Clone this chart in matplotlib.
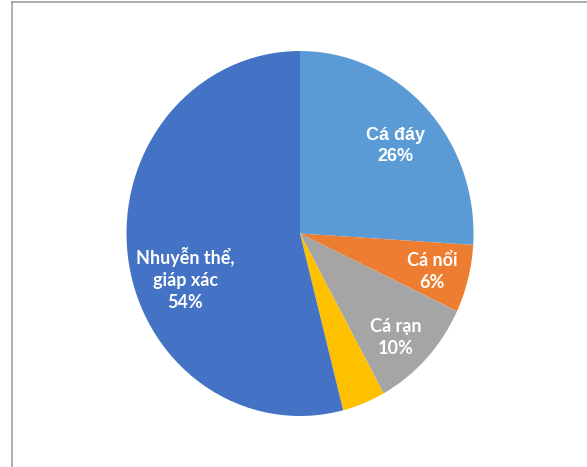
import matplotlib.pyplot as plt
from matplotlib.lines import Line2D

# ====== データ ======
categories = ["Cá đáy", "Cá nổi", "Cá rạn", "", "Nhuyễn thể,\ngiáp xác"]
shares = [26, 6, 10, 4, 54]
colors = ["#5B9BD5", "#ED7D31", "#A5A5A5", "#FFC000", "#4472C4"]

# ラベル位置 (データ座標) と フォント
label_pos = [(0.55, 0.48), (0.76, -0.21), (0.55, -0.57), None, (-0.66, -0.25)]
label_font = ["Liberation Sans", "Lato", "Lato", "Lato", "Lato"]

W, H = 587, 467
CX, CY = 300, 233.5   # 円の中心 (px)
RX, RY = 173.5, 182.5  # 横・縦の半径 (px)

fig = plt.figure(figsize=(W / 100, H / 100), dpi=100)
ax = fig.add_axes([0, 0, 1, 1])

wedges, _ = ax.pie(shares, colors=colors, startangle=90, counterclock=False,
                   radius=1, center=(0, 0),
                   wedgeprops=dict(linewidth=0, antialiased=True))
ax.set_aspect("auto")
ax.set_xlim(-CX / RX, (W - CX) / RX)
ax.set_ylim(-(H - CY) / RY, CY / RY)
ax.axis("off")

for name, val, pos, fam in zip(categories, shares, label_pos, label_font):
    if pos is None:
        continue
    ax.text(pos[0], pos[1], f"{name}\n{val}%", ha="center", va="center",
            color="white", fontsize=13, fontweight="bold", family=fam,
            linespacing=1.35)

# 外枠 (左と上だけ見える)
border = "#A0A0A0"
fig.add_artist(Line2D([11.5 / W, 11.5 / W], [0, 1 - 1.5 / H],
                      transform=fig.transFigure, color=border, lw=1.2))
fig.add_artist(Line2D([11.5 / W, 1], [1 - 1.5 / H, 1 - 1.5 / H],
                      transform=fig.transFigure, color=border, lw=1.2))

fig.savefig("out.png", dpi=100, facecolor="white")
